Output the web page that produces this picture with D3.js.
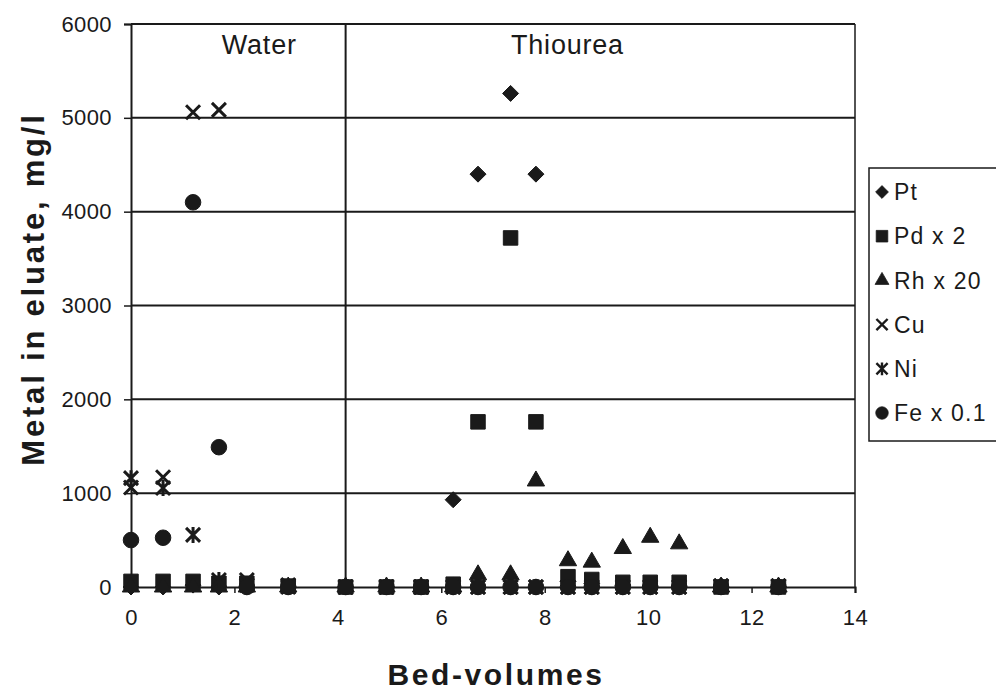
<!DOCTYPE html>
<html><head><meta charset="utf-8">
<script src="https://cdn.jsdelivr.net/npm/d3@7"></script>
<style>
html,body{margin:0;padding:0;background:#fff;}
svg text{font-family:"Liberation Sans",Arial,sans-serif;fill:#1a1a1a;}
</style></head>
<body>
<svg id="chart" width="996" height="693"></svg>
<script>
// ---- data ----
const bedVolumes = [0, 0.62, 1.2, 1.7, 2.24, 3.04, 4.15, 4.94, 5.61, 6.23, 6.71, 7.34, 7.83, 8.45, 8.91, 9.51, 10.04, 10.6, 11.41, 12.52];
const pt   = [0, 0, 20, 0, 0, 0, 0, 0, 0, 930, 4400, 5260, 4400, 60, 40, 20, 10, 10, 0, 0];
const pd2  = [60, 60, 60, 40, 40, 10, 0, 0, 0, 30, 1760, 3720, 1760, 110, 80, 50, 50, 50, 0, 0];
const rh20 = [0, 0, 0, 0, 0, 0, 0, 0, 0, 0, 130, 130, 1130, 280, 265, 410, 530, 460, 0, 0];
const cu   = [1060, 1170, 5060, 5085, 75, 20, 0, 0, 0, 0, 0, 0, 0, 0, 0, 0, 0, 0, 10, 10];
const ni   = [1160, 1055, 555, 75, 20, 0, 0, 0, 0, 0, 0, 0, 0, 0, 0, 0, 0, 0, 10, 10];
const fe01 = [500, 525, 4100, 1490, 0, 0, 0, 0, 0, 0, 0, 0, 0, 0, 0, 0, 0, 0, 0, 0];
const seriesNames = ["Pt", "Pd x 2", "Rh x 20", "Cu", "Ni", "Fe x 0.1"];
const seriesShapes = ["diamond", "square", "triangle", "cross", "star", "circle"];
const xTicks = [0, 2, 4, 6, 8, 10, 12, 14];
const yTicks = [0, 1000, 2000, 3000, 4000, 5000, 6000];
const sectionBoundary = 4.15;
const sectionLabels = [{name: "Water", x: 2.48}, {name: "Thiourea", x: 8.44}];

const seriesValues = [pt, pd2, rh20, cu, ni, fe01];

// ---- layout ----
const svg = d3.select("#chart");
const ink = "#1a1a1a";
const x = d3.scaleLinear().domain([0, 14]).range([131, 855]);
const y = d3.scaleLinear().domain([0, 6000]).range([587, 24]);

// gridlines
svg.append("g").selectAll("line").data(yTicks.filter(d => d > 0)).join("line")
  .attr("x1", x(0)).attr("x2", x(14)).attr("y1", d => y(d)).attr("y2", d => y(d))
  .attr("stroke", ink).attr("stroke-width", 2);
// right border
svg.append("line").attr("x1", x(14)).attr("x2", x(14)).attr("y1", y(6000)).attr("y2", y(0))
  .attr("stroke", ink).attr("stroke-width", 1.5);
// section divider
svg.append("line").attr("x1", x(sectionBoundary)).attr("x2", x(sectionBoundary))
  .attr("y1", y(6000)).attr("y2", y(0)).attr("stroke", ink).attr("stroke-width", 2);

// axes
const xAxis = svg.append("g").attr("transform", `translate(0,${y(0)})`)
  .call(d3.axisBottom(x).tickValues(xTicks).tickSize(6).tickPadding(13).tickFormat(d3.format("d")));
const yAxis = svg.append("g").attr("transform", `translate(${x(0)},0)`)
  .call(d3.axisLeft(y).tickValues(yTicks).tickSize(7).tickPadding(12).tickFormat(d3.format("d")));
[xAxis, yAxis].forEach(g => {
  g.select(".domain").attr("stroke", ink).attr("stroke-width", 2);
  g.selectAll(".tick line").attr("stroke", ink).attr("stroke-width", 1.5);
  g.selectAll(".tick text").attr("fill", ink).style("font-size", "22px")
    .style("letter-spacing", "0.4px")
    .style("font-family", '"Liberation Sans",Arial,sans-serif');
});
xAxis.selectAll(".tick text").attr("dy", "0.85em");
// top border
svg.append("line").attr("x1", x(0)).attr("x2", x(14)).attr("y1", y(6000)).attr("y2", y(6000))
  .attr("stroke", ink).attr("stroke-width", 2);

// section labels
svg.append("g").selectAll("text").data(sectionLabels).join("text")
  .attr("x", d => x(d.x)).attr("y", 54).attr("text-anchor", "middle")
  .style("font-size", "27px").style("letter-spacing", "0.8px").text(d => d.name);

// axis titles
svg.append("text").attr("x", 496).attr("y", 685).attr("text-anchor", "middle")
  .style("font-size", "30px").style("font-weight", "bold").style("letter-spacing", "2.6px").text("Bed-volumes");
svg.append("text").attr("transform", "translate(44,289) rotate(-90)").attr("text-anchor", "middle")
  .style("font-size", "31px").style("font-weight", "bold").style("letter-spacing", "2.8px").text("Metal in eluate, mg/l");

// ---- marker shapes ----
function markerPath(shape) {
  switch (shape) {
    case "diamond": return "M0,-8L8,0L0,8L-8,0Z";
    case "square": return d3.symbol(d3.symbolSquare, 210)();
    case "triangle": return d3.symbol(d3.symbolTriangle, 130)();
    case "circle": return d3.symbol(d3.symbolCircle, 190)();
    case "cross": return "M-7,-7L7,7M-7,7L7,-7";
    case "star": return "M-7,-7L7,7M-7,7L7,-7M0,-8L0,8";
  }
}
function drawMarker(sel, shape) {
  const stroked = shape === "cross" || shape === "star";
  sel.attr("d", markerPath(shape))
    .attr("fill", stroked ? "none" : ink)
    .attr("stroke", ink)
    .attr("stroke-width", stroked ? 3 : 1)
    .attr("stroke-linejoin", "round");
}

// ---- points ----
seriesValues.forEach((vals, i) => {
  const pts = bedVolumes.map((bv, j) => ({bv, v: vals[j]}));
  svg.append("g").selectAll("path").data(pts).join("path")
    .attr("transform", d => `translate(${x(d.bv)},${y(d.v)})`)
    .call(drawMarker, seriesShapes[i]);
});

// ---- legend ----
const lg = svg.append("g");
lg.append("rect").attr("x", 869).attr("y", 168).attr("width", 140).attr("height", 273)
  .attr("fill", "#fff").attr("stroke", ink).attr("stroke-width", 1.5);
const legendY = d3.scalePoint().domain(seriesNames).range([192, 413]);
seriesNames.forEach((name, i) => {
  const g = lg.append("g").attr("transform", `translate(0,${legendY(name)})`);
  g.append("path").attr("transform", "translate(882,0) scale(0.8)").call(drawMarker, seriesShapes[i]);
  g.append("text").attr("x", 894).attr("y", 0).attr("dy", "0.36em")
    .style("font-size", "23px").style("letter-spacing", "1.2px").text(name);
});
</script>
</body></html>
